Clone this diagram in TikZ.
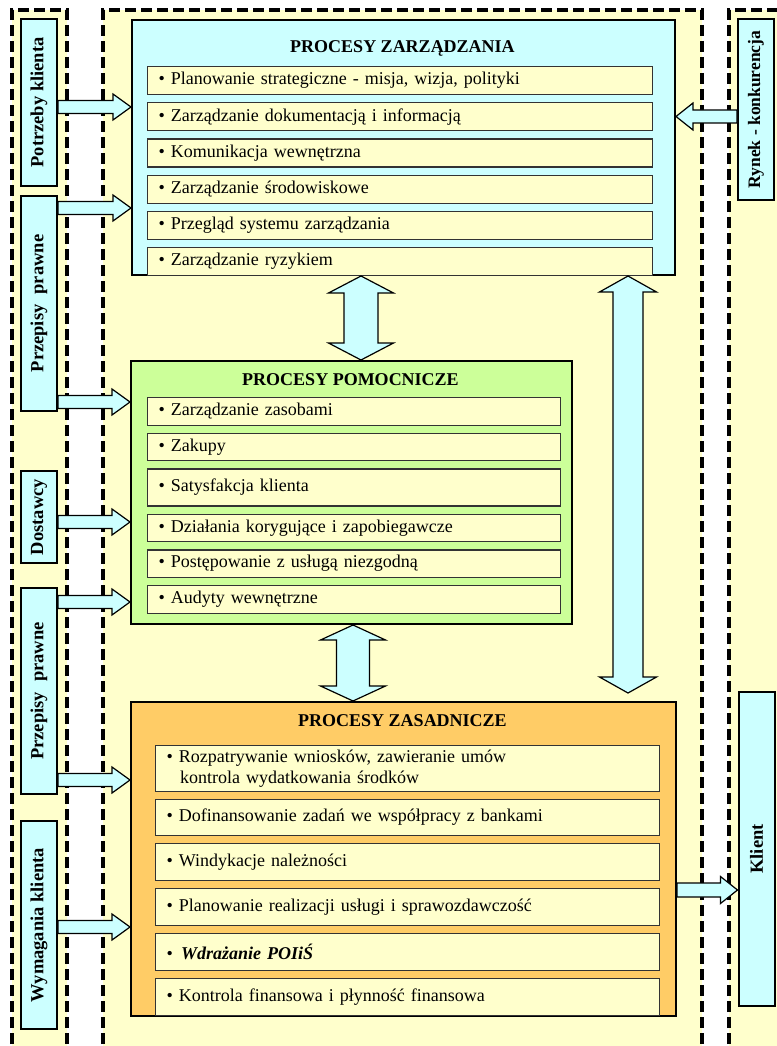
\documentclass[tikz,border=0pt]{standalone}
\usepackage{fontspec}
\setmainfont{Liberation Serif}
\usepackage{graphicx}
\usetikzlibrary{positioning,calc}

\definecolor{tlo}{HTML}{FFFFCC}
\definecolor{blekit}{HTML}{CCFFFF}
\definecolor{zielen}{HTML}{CCFF99}
\definecolor{pomarancz}{HTML}{FFCC66}

\begin{document}
\begin{tikzpicture}[x=1pt,y=-1pt,font=\fontsize{18}{21.5}\selectfont,
  strefa/.style={fill=tlo,draw=black,line width=3.4pt,dash pattern=on 11pt off 5pt},
  proces/.style={draw=black,line width=2pt,anchor=north west,inner sep=0pt},
  tytul/.style={anchor=base,font=\fontsize{18}{21.5}\selectfont\bfseries},
  punkt/.style={draw=black!80,fill=tlo,line width=1.2pt,align=left,inner xsep=11pt,inner ysep=0pt,text width=#1,minimum height=28pt},
  etykieta/.style={draw=black,fill=blekit,line width=2pt,inner sep=0pt,minimum width=36pt,minimum height=#1,font=\fontsize{18.5}{22}\selectfont\bfseries},
  os/.style={shift={(\p1)},rotate=\n1},
  strz/.style n args={3}{draw=black,fill=blekit,line width=1.2pt,to path={let \p1=(\tikztostart),\p2=(\tikztotarget),\n1={atan2(\y2-\y1,\x2-\x1)},\n2={veclen(\x2-\x1,\y2-\y1)} in
    ([os]0,#1) -- ([os]\n2-#3,#1) -- ([os]\n2-#3,#2) -- ([os]\n2,0) -- ([os]\n2-#3,-#2) -- ([os]\n2-#3,-#1) -- ([os]0,-#1) -- cycle}},
  podw/.style n args={3}{draw=black,fill=blekit,line width=1.2pt,to path={let \p1=(\tikztostart),\p2=(\tikztotarget),\n1={atan2(\y2-\y1,\x2-\x1)},\n2={veclen(\x2-\x1,\y2-\y1)} in
    ([os]0,0) -- ([os]#3,#2) -- ([os]#3,#1) -- ([os]\n2-#3,#1) -- ([os]\n2-#3,#2) -- ([os]\n2,0) -- ([os]\n2-#3,-#2) -- ([os]\n2-#3,-#1) -- ([os]#3,-#1) -- ([os]#3,-#2) -- cycle}}]
\useasboundingbox (0,0) rectangle (776,1046);

%Strefy
\draw[strefa] (12,1060) -- (12,10) -- (67,10) -- (67,1060);
\draw[strefa] (103,1060) -- (103,10) -- (702,10) -- (702,1060);
\draw[strefa] (729,1060) -- (729,10) -- (790,10) -- (790,1060);

%Wejscia i wyjscia
\node (potrzeby) [etykieta=167pt] at (39,102.5) {\rotatebox{90}{Potrzeby klienta}};
\node (przepisyA) [etykieta=215pt] at (39,303.5) {\rotatebox{90}{Przepisy\hspace{0.55em}prawne}};
\node (dostawcy) [etykieta=92pt] at (39,517) {\rotatebox{90}{Dostawcy}};
\node (przepisyB) [etykieta=206pt] at (39,691) {\rotatebox{90}{Przepisy\hspace{0.55em}prawne}};
\node (wymagania) [etykieta=208pt] at (39,925) {\rotatebox{90}{Wymagania klienta}};
\node (rynek) [etykieta=181pt,font=\fontsize{17.5}{21}\selectfont\bfseries] at (756,109.5) {\rotatebox{90}{Rynek - konkurencja}};
\node (klient) [etykieta=314pt] at (756.5,849) {\rotatebox{90}{Klient}};

%Procesy
\node (zarz) [proces,fill=blekit,minimum width=543pt,minimum height=255pt] at (131,19) {};
\node (pomoc) [proces,fill=zielen,minimum width=441pt,minimum height=263pt] at (130,360) {};
\node (zasad) [proces,fill=pomarancz,minimum width=545pt,minimum height=314pt] at (130,701) {};
\node (zarz-t) [tytul] at (402.5,53) {PROCESY ZARZĄDZANIA};
\node (pomoc-t) [tytul] at (350.5,385) {PROCESY POMOCNICZE};
\node (zasad-t) [tytul] at (402.5,726) {PROCESY ZASADNICZE};

%Procesy zarzadzania
\node (z1) [punkt=483pt,anchor=north west] at (147,66) {\textbullet\ Planowanie strategiczne - misja, wizja, polityki};
\node (z2) [punkt=483pt,below=7pt of z1] {\textbullet\ Zarządzanie dokumentacją i informacją};
\node (z3) [punkt=483pt,below=7pt of z2] {\textbullet\ Komunikacja wewnętrzna};
\node (z4) [punkt=483pt,below=7pt of z3] {\textbullet\ Zarządzanie środowiskowe};
\node (z5) [punkt=483pt,below=7pt of z4] {\textbullet\ Przegląd systemu zarządzania};
\node (z6) [punkt=483pt,below=7pt of z5] {\textbullet\ Zarządzanie ryzykiem};

%Procesy pomocnicze
\node (p1) [punkt=391pt,anchor=north west,minimum height=27.5pt] at (147,397) {\textbullet\ Zarządzanie zasobami};
\node (p2) [punkt=391pt,below=7pt of p1,minimum height=27.5pt] {\textbullet\ Zakupy};
\node (p3) [punkt=391pt,below=7pt of p2,minimum height=37pt] {\textbullet\ Satysfakcja klienta};
\node (p4) [punkt=391pt,below=7pt of p3,minimum height=27.5pt] {\textbullet\ Działania korygujące i zapobiegawcze};
\node (p5) [punkt=391pt,below=7pt of p4,minimum height=27.5pt] {\textbullet\ Postępowanie z usługą niezgodną};
\node (p6) [punkt=391pt,below=7pt of p5,minimum height=27.5pt] {\textbullet\ Audyty wewnętrzne};

%Procesy zasadnicze
\node (s1) [punkt=482pt,anchor=north west,minimum height=46pt] at (155,745) {\textbullet\ Rozpatrywanie wniosków, zawieranie umów\\\hspace*{0.75em}kontrola wydatkowania środków};
\node (s2) [punkt=482pt,below=6.5pt of s1,minimum height=36.5pt] {\textbullet\ Dofinansowanie zadań we współpracy z bankami};
\node (s3) [punkt=482pt,below=6.5pt of s2,minimum height=37pt] {\textbullet\ Windykacje należności};
\node (s4) [punkt=482pt,below=6.5pt of s3,minimum height=37.5pt] {\textbullet\ Planowanie realizacji usługi i sprawozdawczość};
\node (s5) [punkt=482pt,below=6.5pt of s4,minimum height=37pt] {\textbullet\hspace{0.45em}\textbf{\textit{Wdrażanie POIiŚ}}};
\node (s6) [punkt=482pt,below=6.5pt of s5,minimum height=37pt] {\textbullet\ Kontrola finansowa i płynność finansowa};

\coordinate (dol) at (628,693);

%Strzalki
\draw[strz={6.5}{13}{18}] (potrzeby.east |- 0,107) to (zarz.west |- 0,107);
\draw[strz={6.5}{13}{18}] (przepisyA.east |- 0,208) to (zarz.west |- 0,208);
\draw[strz={6.5}{13}{18}] (przepisyA.east |- 0,402) to (pomoc.west |- 0,402);
\draw[strz={6.5}{13}{18}] (dostawcy.east |- 0,522) to (pomoc.west |- 0,522);
\draw[strz={6.5}{13}{18}] (przepisyB.east |- 0,602) to (pomoc.west |- 0,602);
\draw[strz={6.5}{13}{18}] (przepisyB.east |- 0,780) to (zasad.west |- 0,780);
\draw[strz={6.5}{13}{18}] (wymagania.east |- 0,927) to (zasad.west |- 0,927);
\draw[strz={6.5}{13.5}{17}] (rynek.west |- 0,116.5) to (zarz.east |- 0,116.5);
\draw[strz={7}{13.5}{17}] (zasad.east |- 0,890) to (klient.west |- 0,890);
\draw[podw={17}{32.5}{17}] (zarz.south -| 361,0) to (pomoc.north -| 361,0);
\draw[podw={16.5}{32.5}{15}] (pomoc.south -| 353,0) to (zasad.north -| 353,0);
\draw[podw={15}{28.5}{16}] (zarz.south -| 628,0) to (dol);
\end{tikzpicture}
\end{document}
